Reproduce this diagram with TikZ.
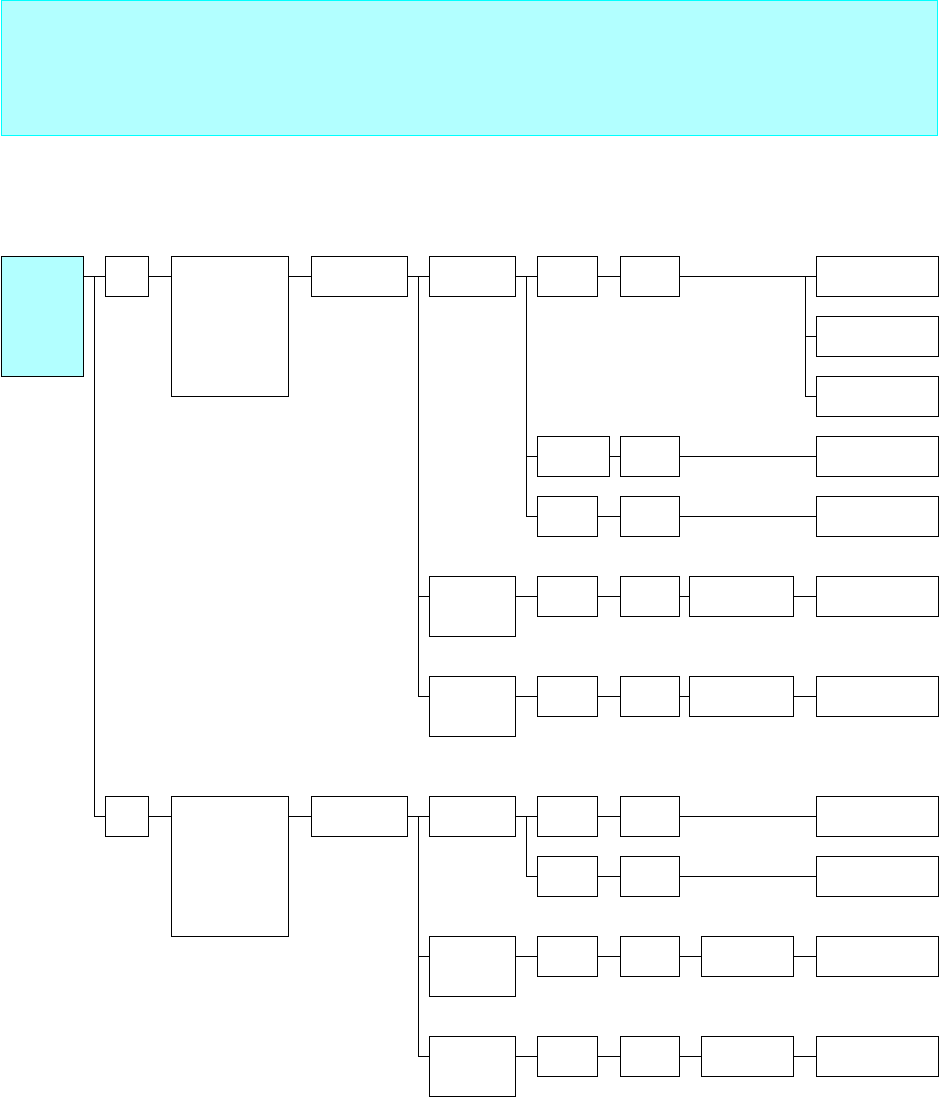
\documentclass[tikz,border=0pt]{standalone}
\definecolor{lcyan}{RGB}{178,255,255}
\definecolor{bcyan}{RGB}{0,255,255}
\begin{document}
\begin{tikzpicture}[x=1pt,y=-1pt,
  box/.style={draw=black,line width=1pt,inner sep=0pt,outer sep=0pt,anchor=north west,fill=white},
  conn/.style={draw=black,line width=1pt}]
\useasboundingbox (0,0) rectangle (939,1097);
\node[draw=bcyan,fill=lcyan,line width=1pt,inner sep=0pt,anchor=north west,minimum width=936pt,minimum height=135pt] (banner) at (0.5,0.5) {};
\newcommand{\bx}[5]{\node[box,minimum width=#4pt,minimum height=#5pt] (#1) at (#2,#3) {};}
% root
\node[box,fill=lcyan,minimum width=82pt,minimum height=120pt] (root) at (1,256) {};
% upper branch
\bx{A1}{105}{256}{43}{40}
\bx{B1}{171}{256}{117}{140}
\bx{C1}{311}{256}{96}{40}
\bx{D1}{429}{256}{86}{40}
\bx{E1}{537}{256}{60}{40}
\bx{F1}{620}{256}{59}{40}
\bx{H1}{816}{256}{122}{40}
\bx{H2}{816}{316}{122}{40}
\bx{H3}{816}{376}{122}{40}
\bx{E4}{537}{436}{72}{40}
\bx{F4}{620}{436}{59}{40}
\bx{H4}{816}{436}{122}{40}
\bx{E5}{537}{496}{60}{40}
\bx{F5}{620}{496}{59}{40}
\bx{H5}{816}{496}{122}{40}
\bx{D6}{429}{576}{86}{60}
\bx{E6}{537}{576}{60}{40}
\bx{F6}{620}{576}{59}{40}
\bx{G6}{689}{576}{104}{40}
\bx{H6}{816}{576}{122}{40}
\bx{D7}{429}{676}{86}{60}
\bx{E7}{537}{676}{60}{40}
\bx{F7}{620}{676}{59}{40}
\bx{G7}{689}{676}{104}{40}
\bx{H7}{816}{676}{122}{40}
% lower branch
\bx{A2}{105}{796}{43}{40}
\bx{B2}{171}{796}{117}{140}
\bx{C2}{311}{796}{96}{40}
\bx{D8}{429}{796}{86}{40}
\bx{E8}{537}{796}{60}{40}
\bx{F8}{620}{796}{59}{40}
\bx{H8}{816}{796}{122}{40}
\bx{E9}{537}{856}{60}{40}
\bx{F9}{620}{856}{59}{40}
\bx{H9}{816}{856}{122}{40}
\bx{D10}{429}{936}{86}{60}
\bx{E10}{537}{936}{60}{40}
\bx{F10}{620}{936}{59}{40}
\bx{G10}{701}{936}{92}{40}
\bx{H10}{816}{936}{122}{40}
\bx{D11}{429}{1036}{86}{60}
\bx{E11}{537}{1036}{60}{40}
\bx{F11}{620}{1036}{59}{40}
\bx{G11}{701}{1036}{92}{40}
\bx{H11}{816}{1036}{122}{40}
% junctions
\coordinate (jR) at (94,276);
\coordinate (jC1) at (418,276);
\coordinate (jD1) at (526,276);
\coordinate (jF1) at (805,276);
\coordinate (jC2) at (418,816);
\coordinate (jD8) at (526,816);
% connectors upper
\draw[conn] (root.east |- A1.west) -- (A1.west);
\draw[conn] (jR) |- (A2.west);
\draw[conn] (A1.east) -- (B1.west |- A1.east);
\draw[conn] (B1.east |- C1.west) -- (C1.west);
\draw[conn] (C1.east) -- (D1.west);
\draw[conn] (jC1) |- (D6.west |- E6.west);
\draw[conn] (jC1) |- (D7.west |- E7.west);
\draw[conn] (D1.east) -- (E1.west);
\draw[conn] (jD1) |- (E4.west);
\draw[conn] (jD1) |- (E5.west);
\draw[conn] (E1.east) -- (F1.west);
\draw[conn] (F1.east) -- (H1.west);
\draw[conn] (jF1) |- (H2.west);
\draw[conn] (jF1) |- (H3.west);
\draw[conn] (E4.east) -- (F4.west);
\draw[conn] (F4.east) -- (H4.west);
\draw[conn] (E5.east) -- (F5.west);
\draw[conn] (F5.east) -- (H5.west);
\draw[conn] (D6.east |- E6.west) -- (E6.west);
\draw[conn] (E6.east) -- (F6.west);
\draw[conn] (F6.east) -- (G6.west);
\draw[conn] (G6.east) -- (H6.west);
\draw[conn] (D7.east |- E7.west) -- (E7.west);
\draw[conn] (E7.east) -- (F7.west);
\draw[conn] (F7.east) -- (G7.west);
\draw[conn] (G7.east) -- (H7.west);
% connectors lower
\draw[conn] (A2.east) -- (B2.west |- A2.east);
\draw[conn] (B2.east |- C2.west) -- (C2.west);
\draw[conn] (C2.east) -- (D8.west);
\draw[conn] (jC2) |- (D10.west |- E10.west);
\draw[conn] (jC2) |- (D11.west |- E11.west);
\draw[conn] (D8.east) -- (E8.west);
\draw[conn] (jD8) |- (E9.west);
\draw[conn] (E8.east) -- (F8.west);
\draw[conn] (F8.east) -- (H8.west);
\draw[conn] (E9.east) -- (F9.west);
\draw[conn] (F9.east) -- (H9.west);
\draw[conn] (D10.east |- E10.west) -- (E10.west);
\draw[conn] (E10.east) -- (F10.west);
\draw[conn] (F10.east) -- (G10.west);
\draw[conn] (G10.east) -- (H10.west);
\draw[conn] (D11.east |- E11.west) -- (E11.west);
\draw[conn] (E11.east) -- (F11.west);
\draw[conn] (F11.east) -- (G11.west);
\draw[conn] (G11.east) -- (H11.west);
\end{tikzpicture}
\end{document}
